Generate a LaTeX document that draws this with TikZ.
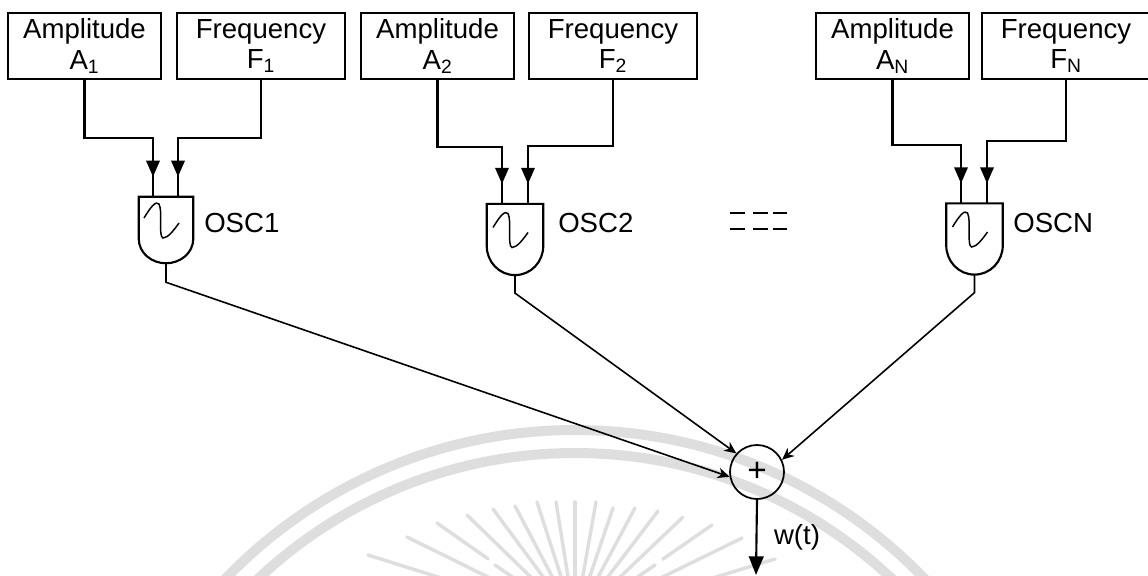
\documentclass[tikz,border=0pt]{standalone}
\usepackage{fontspec}
\setmainfont{Liberation Sans}
\usetikzlibrary{arrows.meta,calc,decorations.markings}
\definecolor{sealgray}{gray}{0.87}
\tikzset{
    ampbox/.style={draw,line width=1.2pt,minimum width=114.75pt,minimum height=49.5pt,inner sep=0pt,align=center,font=\fontsize{20.7}{24}\selectfont},
    freqbox/.style={ampbox,minimum width=126pt},
    oscbox/.style={minimum width=42pt,minimum height=53pt,inner sep=0pt},
    osctext/.style={anchor=west,inner sep=0pt,font=\fontsize{20.7}{24}\selectfont},
    sumnode/.style={draw,circle,line width=1.3pt,minimum size=40.5pt,inner sep=0pt,font=\fontsize{25}{25}\selectfont},
    wire/.style={line width=1.6pt},
    feed/.style={wire,postaction={decorate,decoration={markings,mark=at position -15pt with {\arrow{Triangle[length=12pt,width=10pt]}}}}},
    link/.style={line width=1.2pt,-{Stealth[length=9pt,width=8pt]}},
    seal/.style={sealgray,line width=7.5pt},
    ray/.style={sealgray,line width=2.6pt,line cap=round}
}
\newcommand{\oscbody}[1]{
    \path (#1.north west) ++(0,42) coordinate (#1l);
    \path (#1.north east) ++(0,42) coordinate (#1r);
    \draw[wire] (#1l) -- (#1.north west) -- (#1.north east) -- (#1r) to[out=-90,in=0] (#1.south) to[out=180,in=-90] (#1l);
    \draw[line width=1.1pt,shift={(#1.center)}] (-22,-12) .. controls (-16,-22) and (-10,-30) .. (-7,-26) .. controls (-3,-18) and (-8,6) .. (-3,8) .. controls (2,8) and (8,0) .. (13,-7);
}
\begin{document}
\begin{tikzpicture}[x=0.75pt,y=-0.75pt]
    \useasboundingbox (0,0) rectangle (1148,575);
    \clip (0,0) rectangle (1148,575);
    % seal behind the diagram
    \draw[seal] (575,915) circle (485);
    \draw[seal] (575,915) circle (462);
    \foreach \xe/\ye/\k in {368/555/1,407/537/1,437/523/0.37,467/515/1,493/509/1,515/506/1,537/502/1,556/502/1,575/502/1,596/502/1,613/508/1,635/508/1,658/511/1,683/517/1,712/525/0.36,742/538/1,775/559/1,495/565/1,655/565/1}
        \draw[ray] (\xe,\ye) -- ($(\xe,\ye)!\k!(575,620)$);

    \node[ampbox] (amp1) at (84.5,46) {Amplitude\\[-1pt]A\textsubscript{1}};
    \node[freqbox] (freq1) at (261,46) {Frequency\\[-1pt]F\textsubscript{1}};
    \node[ampbox] (amp2) at (437.5,46) {Amplitude\\[-1pt]A\textsubscript{2}};
    \node[freqbox] (freq2) at (613,46) {Frequency\\[-1pt]F\textsubscript{2}};
    \node[ampbox] (ampN) at (892.5,46) {Amplitude\\[-1pt]A\textsubscript{N}};
    \node[freqbox] (freqN) at (1066,46) {Frequency\\[-1pt]F\textsubscript{N}};

    \node[oscbox,minimum width=40.5pt,minimum height=49.5pt] (osc1) at (166,230) {};
    \node[oscbox] (osc2) at (515,239.5) {};
    \node[oscbox] (oscN) at (974.5,239) {};
    \oscbody{osc1}
    \oscbody{osc2}
    \oscbody{oscN}
    \node[osctext] (name1) at (204,223) {OSC1};
    \node[osctext] (name2) at (558,223) {OSC2};
    \node[osctext] (nameN) at (1013,223) {OSCN};

    \node[sumnode] (sum) at (757,472) {+};
    \node[inner sep=0pt,font=\fontsize{20.7}{24}\selectfont] (wlabel) at (797,537) {w(t)};
    \coordinate (wout) at (756,575);

    \coordinate (a1) at (153,138);
    \coordinate (f1) at (178,138);
    \coordinate (a2) at (502,147);
    \coordinate (f2) at (528,146);
    \coordinate (aN) at (961,145);
    \coordinate (fN) at (987,141);
    \draw[feed] (amp1.south) |- (a1) -- (a1 |- osc1.north);
    \draw[feed] (freq1.south) |- (f1) -- (f1 |- osc1.north);
    \draw[feed] (amp2.south) |- (a2) -- (a2 |- osc2.north);
    \draw[feed] (freq2.south) |- (f2) -- (f2 |- osc2.north);
    \draw[feed] (ampN.south) |- (aN) -- (aN |- oscN.north);
    \draw[feed] (freqN.south) |- (fN) -- (fN |- oscN.north);

    \draw[link] (osc1.south) -- ++(0,19) -- (sum.190);
    \draw[link] (osc2.south) -- ++(0,18) -- (sum.138);
    \draw[link] (oscN.south) -- ++(0,18) -- (sum.26);
    \draw[wire,-{Triangle[length=14pt,width=11pt]}] (sum.south) -- (wout);

    % dots between OSC2 and OSCN
    \foreach \xa/\xb in {730/745,753/768,773/787} {
        \draw[line width=1.1pt] (\xa,213) -- (\xb,213);
        \draw[line width=1.1pt] (\xa,229) -- (\xb,229);
    }
\end{tikzpicture}
\end{document}
